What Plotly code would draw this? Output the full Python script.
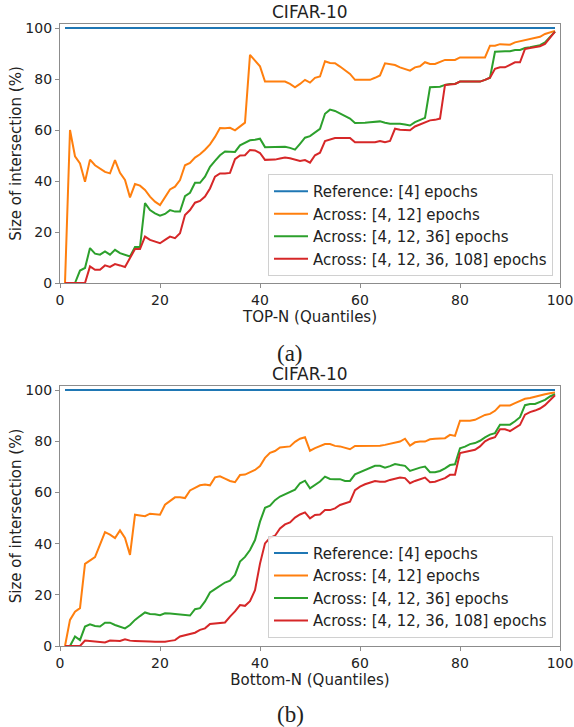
import plotly.graph_objects as go

quantiles = list(range(1, 100))

top_ref = [100.0] * 99
top_4_12 = [0, 60, 49.7, 46.9, 39.7, 48.4, 46.2, 44.9, 43.6, 43, 48.2, 43.2, 40.4, 33.6, 38.8, 38.2, 36.5, 33.9, 31.9, 30.6,
            33.9, 36.7, 37.8, 40.4, 46.2, 47.1, 49.2, 50.5, 52.3, 54.4, 57.3, 60.8, 60.7, 60.9, 59.9, 61.5, 62.9, 89.5, 87.2, 85,
            79, 79, 79, 79, 79, 78.1, 76.8, 78.1, 79.7, 78.6, 80.5, 81, 87, 86.3, 86.2, 84.9, 83.6, 82, 79.7, 79.7,
            79.7, 79.7, 80.5, 81.4, 86.2, 85.7, 85.5, 84.6, 84, 83.3, 84.6, 85, 86.6, 85.9, 85.9, 86.6, 87.5, 87.5, 87.5, 88.5,
            88.5, 88.5, 88.5, 88.5, 88.5, 93.1, 93.1, 93.7, 93.7, 93.5, 94.4, 94.8, 95.3, 95.7, 96.1, 96.6, 97.7, 98.3, 98.9]
top_4_12_36 = [0, 0, 0, 4.9, 5.9, 13.7, 11.5, 11.1, 12.4, 11.1, 13, 11.7, 11.1, 10.4, 14.1, 14.1, 31.3, 28.6, 27.3, 26.4,
               27.1, 28.6, 28, 28, 34.1, 35.4, 39.3, 39.3, 41.7, 45.6, 47.9, 50.1, 51.6, 51.5, 51.4, 54, 54.9, 56, 56.2, 56.6,
               53.3, 53.3, 53.3, 53.3, 53.4, 53, 52.3, 54.6, 57, 57.6, 59.2, 60.5, 66.4, 68, 67.5, 66.4, 65.5, 64.5, 62.8, 62.8,
               62.9, 63.1, 63.2, 63.4, 62.9, 62.5, 62.5, 62.5, 62.2, 61.8, 63.1, 63.8, 64.8, 76.8, 76.8, 77, 77.7, 78.1, 78.1, 79,
               79, 79, 79, 79, 79.7, 80.5, 90.7, 90.9, 90.9, 90.9, 91.4, 91.4, 92.2, 92.5, 92.8, 93.3, 94.4, 96.3, 98.6]
top_4_12_36_108 = [0, 0, 0, 0, 0, 6.5, 5.2, 5.2, 6.9, 6.3, 7.4, 6.9, 6.3, 9.8, 13.3, 13.3, 18.2, 16.9, 16.3, 15.6,
                   16.9, 18.2, 17.6, 19.5, 26.7, 28.6, 31.5, 32.2, 33.9, 37.1, 41.7, 43, 43, 43.2, 48.6, 50, 50.1, 52.2, 52, 51,
                   48.3, 48.4, 48.4, 48.8, 49.2, 48.9, 48.3, 47.9, 48.2, 47.2, 50.1, 51.1, 55.7, 56.2, 56.9, 56.9, 56.9, 56.9, 55.2, 55.2,
                   55.2, 55.2, 55.2, 55.7, 55.2, 55.7, 60.5, 60.1, 60.1, 59.9, 61.4, 62.2, 63.1, 63.8, 64, 64.5, 77.7, 77.8, 78.1, 79,
                   79, 79, 79, 79, 79.7, 80.5, 84, 84.6, 84.6, 85.7, 86.6, 86.6, 91.8, 92.2, 92.5, 92.9, 93.8, 96.1, 98.6]

bot_ref = [100.0] * 99
bot_4_12 = [0, 10.2, 13.4, 14.8, 32.1, 33.4, 34.7, 39.6, 44.5, 43.5, 42.2, 45.2, 42.2, 35.6, 51.3, 51, 50.7, 51.7, 51.6, 51.3,
            55.2, 56.8, 58.1, 58.1, 57.8, 60.8, 61.7, 62.8, 63.1, 62.8, 65.9, 66.3, 65.4, 64.5, 64, 66.8, 67, 67.9, 68.8, 70.3,
            73.5, 75.5, 76.2, 77.6, 77.9, 78, 79.8, 81, 81.6, 76.3, 77.3, 78.2, 78.9, 78.9, 78.2, 78, 77.6, 76.9, 78.2, 78.2,
            78.2, 78.2, 78.2, 78.3, 78.6, 79, 79.3, 79.9, 81, 78.3, 79.6, 79.9, 79.9, 80.8, 81, 81, 81.2, 82.5, 82.1, 88,
            88, 88, 88.4, 89.4, 90.3, 90.7, 91.9, 94, 94, 94, 94.9, 95.8, 96.6, 96.9, 97.5, 97.9, 98.4, 98.8, 99.1]
bot_4_12_36 = [0, 0, 3.7, 2.3, 7.6, 8.5, 7.8, 7.6, 9.1, 9.1, 8.2, 7.6, 6.9, 8.2, 10.2, 11.7, 13.1, 12.5, 12.4, 12,
               12.8, 12.7, 12.5, 12.1, 12.1, 11.9, 14.4, 14.8, 17.4, 20.9, 22.2, 23.5, 24.8, 25.5, 27.8, 33, 34.8, 37.5, 41.4, 48.6,
               54, 54.8, 57, 58.4, 59.4, 60.2, 61.1, 63.6, 64.6, 61.6, 63, 64.3, 66.2, 65.3, 65.2, 65.2, 64.5, 64.5, 67.1, 67.9,
               68.8, 69.7, 70.4, 70.4, 69.7, 70.3, 71.1, 70.7, 70.4, 68.4, 69.2, 69.7, 70.1, 67.9, 67.9, 68.4, 69.4, 70.7, 71, 77.3,
               77.9, 78.9, 79.3, 80.2, 81.5, 82.6, 83.2, 86.5, 86.5, 86.5, 87.8, 89.4, 94.1, 94.6, 94.6, 95.4, 96.2, 97.5, 98.4]
bot_4_12_36_108 = [0, 0, 0, 0, 2.1, 2, 1.7, 1.7, 1.4, 2.1, 2.1, 2, 2.6, 2.1, 2, 2, 1.9, 1.8, 1.7, 1.7,
                   1.7, 2, 2.3, 3.7, 4.2, 5, 5.2, 6.3, 6.9, 8.6, 8.8, 8.9, 9.2, 11.5, 13.5, 16, 15.7, 17.5, 21.8, 32.2,
                   40.1, 42.3, 43.1, 45.9, 47.5, 48.3, 50.2, 51.4, 52.2, 49.9, 51.2, 51.4, 53.1, 53.1, 53.8, 55.1, 55.7, 56.4, 60.9, 62.3,
                   63.2, 63.9, 64.5, 64.2, 64.2, 64.9, 65.3, 65.8, 65.6, 63.6, 64.5, 65.3, 65.8, 64, 64.2, 64.9, 65.6, 66.9, 66.9, 75.4,
                   75.8, 76.1, 76.7, 78, 80, 81, 81.6, 84.7, 84.7, 84, 85.3, 86.4, 90.4, 91.4, 92, 92.8, 94.1, 95.9, 98]

series_names = ["Reference: [4] epochs", "Across: [4, 12] epochs",
                "Across: [4, 12, 36] epochs", "Across: [4, 12, 36, 108] epochs"]
colors = ["#1f77b4", "#ff7f0e", "#2ca02c", "#d62728"]
xtick_vals = [0, 20, 40, 60, 80, 100]
ytick_vals = [0, 20, 40, 60, 80, 100]

FONT = "DejaVu Sans"
TXT = "#222222"

fig = go.Figure()
top_series = [top_ref, top_4_12, top_4_12_36, top_4_12_36_108]
bot_series = [bot_ref, bot_4_12, bot_4_12_36, bot_4_12_36_108]
for i, (name, ys) in enumerate(zip(series_names, top_series)):
    fig.add_trace(go.Scatter(x=quantiles, y=ys, mode="lines", name=name,
                             line=dict(color=colors[i], width=2),
                             xaxis="x", yaxis="y", legend="legend", legendgroup=f"a{i}"))
for i, (name, ys) in enumerate(zip(series_names, bot_series)):
    fig.add_trace(go.Scatter(x=quantiles, y=ys, mode="lines", name=name,
                             line=dict(color=colors[i], width=2),
                             xaxis="x2", yaxis="y2", legend="legend2", legendgroup=f"b{i}"))

axis_common = dict(showgrid=False, zeroline=False, showline=True, mirror=True, automargin=False,
                   linecolor="#8c8c8c", linewidth=1.2, ticks="outside", ticklen=4,
                   tickcolor="#8c8c8c", tickwidth=1,
                   tickfont=dict(family=FONT, size=14, color=TXT))

legend_common = dict(xanchor="right", yanchor="bottom", x=0.986,
                     bgcolor="rgba(255,255,255,0.85)", bordercolor="#d0d0d0", borderwidth=1,
                     font=dict(family=FONT, size=15, color=TXT), tracegroupgap=0,
                     itemwidth=34)

fig.update_layout(
    width=574, height=727,
    margin=dict(l=60, r=14, t=24, b=81, autoexpand=False),
    paper_bgcolor="white", plot_bgcolor="white",
    showlegend=True,
    hovermode=False,
    xaxis=dict(domain=[0, 1], range=[0, 100], anchor="y", tickvals=xtick_vals,
               title=dict(text="TOP-N (Quantiles)", font=dict(family=FONT, size=15, color=TXT), standoff=1),
               **axis_common),
    yaxis=dict(domain=[0.5836, 1], range=[0, 101.6], anchor="x", tickvals=ytick_vals,
               title=dict(text="Size of intersection (%)", font=dict(family=FONT, size=15, color=TXT), standoff=0),
               **axis_common),
    xaxis2=dict(domain=[0, 1], range=[0, 100], anchor="y2", tickvals=xtick_vals,
                title=dict(text="Bottom-N (Quantiles)", font=dict(family=FONT, size=15, color=TXT), standoff=1),
                **axis_common),
    yaxis2=dict(domain=[0, 0.418], range=[0, 101.6], anchor="x2", tickvals=ytick_vals,
                title=dict(text="Size of intersection (%)", font=dict(family=FONT, size=15, color=TXT), standoff=0),
                **axis_common),
    legend=dict(y=0.5949, **legend_common),
    legend2=dict(y=0.0134, **legend_common),
    annotations=[
        dict(text="CIFAR-10", x=0.5, y=1.0185, xref="paper", yref="paper", showarrow=False,
             xanchor="center", yanchor="middle", font=dict(family=FONT, size=17, color=TXT)),
        dict(text="CIFAR-10", x=0.5, y=0.4365, xref="paper", yref="paper", showarrow=False,
             xanchor="center", yanchor="middle", font=dict(family=FONT, size=17, color=TXT)),
        dict(text="(a)", x=0.46, y=0.4695, xref="paper", yref="paper", showarrow=False,
             xanchor="center", yanchor="middle", font=dict(family="Liberation Serif", size=23, color=TXT)),
        dict(text="(b)", x=0.46, y=-0.1109, xref="paper", yref="paper", showarrow=False,
             xanchor="center", yanchor="middle", font=dict(family="Liberation Serif", size=23, color=TXT)),
    ],
)

# Remove the browser's default 8px body margin so the 574x727 figure fills the window exactly.
fig.write_html("out.html", config={"displayModeBar": False},
               post_script="document.body.style.margin='0';")
